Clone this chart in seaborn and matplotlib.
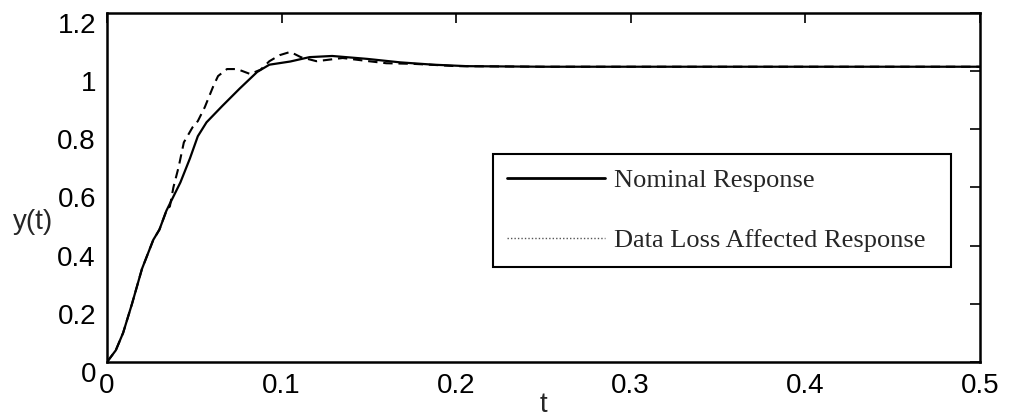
import numpy as np
import pandas as pd
import matplotlib
matplotlib.use("Agg")
import matplotlib.pyplot as plt
import matplotlib.transforms as mtransforms
from matplotlib.lines import Line2D
import seaborn as sns

# Nominal step response
t_nominal = [0.0, 0.005, 0.0092, 0.0143, 0.020, 0.0265, 0.030, 0.034, 0.042,
             0.0475, 0.052, 0.057, 0.066, 0.076, 0.086, 0.093, 0.105, 0.116,
             0.129, 0.149, 0.168, 0.187, 0.206, 0.25, 0.30, 0.35, 0.40, 0.45, 0.50]
y_nominal = [0.0, 0.04, 0.10, 0.20, 0.32, 0.42, 0.455, 0.52, 0.617,
             0.70, 0.776, 0.824, 0.88, 0.94, 0.997, 1.022, 1.033, 1.048,
             1.052, 1.042, 1.03, 1.022, 1.017, 1.015, 1.015, 1.015, 1.015, 1.015, 1.015]

# Data loss affected response
t_loss = [0.0, 0.005, 0.0092, 0.0143, 0.020, 0.0265, 0.030, 0.034, 0.036, 0.038,
          0.041, 0.044, 0.049, 0.052, 0.056, 0.061, 0.0636, 0.0687, 0.0745,
          0.082, 0.088, 0.093, 0.099, 0.105, 0.111, 0.120, 0.135, 0.150,
          0.160, 0.175, 0.185, 0.200, 0.25, 0.30, 0.35, 0.40, 0.45, 0.50]
y_loss = [0.0, 0.04, 0.10, 0.20, 0.32, 0.42, 0.455, 0.52, 0.535, 0.60,
          0.67, 0.755, 0.807, 0.828, 0.876, 0.95, 0.983, 1.007, 1.007,
          0.99, 1.005, 1.034, 1.055, 1.066, 1.048, 1.034, 1.045, 1.034,
          1.027, 1.025, 1.022, 1.017, 1.015, 1.015, 1.015, 1.015, 1.015, 1.015]

x_ticks = [0, 0.1, 0.2, 0.3, 0.4, 0.5]
x_tick_labels = ["0", "0.1", "0.2", "0.3", "0.4", "0.5"]
y_ticks = [0, 0.2, 0.4, 0.6, 0.8, 1.0, 1.2]
y_tick_labels = ["0", "0.2", "0.4", "0.6", "0.8", "1", "1.2"]
legend_labels = ["Nominal Response", "Data Loss Affected Response"]

sns.set_style("white")
plt.rcParams["font.family"] = ["Liberation Sans", "DejaVu Sans"]

fig = plt.figure(figsize=(10.1, 4.17), dpi=100)
ax = fig.add_axes([0.106, 0.132, 0.864, 0.837])

df_nom = pd.DataFrame({"t": t_nominal, "y": y_nominal})
df_loss = pd.DataFrame({"t": t_loss, "y": y_loss})

sns.lineplot(data=df_loss, x="t", y="y", ax=ax, color="black", lw=1.5,
             linestyle=(0, (4.5, 2.8)), estimator=None, sort=False)
sns.lineplot(data=df_nom, x="t", y="y", ax=ax, color="black", lw=1.6,
             estimator=None, sort=False)

ax.set_xlim(0, 0.5)
ax.set_ylim(0, 1.2)
ax.set_xticks(x_ticks)
ax.set_xticklabels(x_tick_labels)
ax.set_yticks(y_ticks)
ax.set_yticklabels(y_tick_labels)
ax.tick_params(direction="in", top=True, right=True, length=7, width=1.2,
               labelsize=20, pad=8, colors="black")

# MATLAB-ish: y tick labels sit a little below the tick
shift = mtransforms.ScaledTranslation(0, -0.1, fig.dpi_scale_trans)
for lab in ax.get_yticklabels():
    lab.set_transform(lab.get_transform() + shift)

for sp in ax.spines.values():
    sp.set_visible(True)
    sp.set_color("black")
    sp.set_linewidth(1.8)

ax.set_xlabel("t", fontsize=20)
ax.xaxis.set_label_coords(0.5, -0.123)
ax.xaxis.label.set_va("center")
ax.set_ylabel("y(t)", fontsize=20, rotation=0)
ax.yaxis.set_label_coords(-0.085, 0.40)
ax.yaxis.label.set_ha("center")
ax.yaxis.label.set_va("center")

handles = [Line2D([], [], color="black", lw=2),
           Line2D([], [], color="#555555", lw=1, linestyle=(0, (1, 1.5)))]
leg = ax.legend(handles, legend_labels, loc="upper left",
                bbox_to_anchor=(0.442, 0.255, 0.525, 0.341), mode="expand",
                prop={"family": "Liberation Serif", "size": 19},
                frameon=True, fancybox=False, framealpha=1, edgecolor="black",
                borderpad=0.55, labelspacing=1.4, handlelength=3.7,
                handletextpad=0.35, borderaxespad=0)
leg.get_frame().set_linewidth(1.5)

fig.savefig("out.png", dpi=100, facecolor="white")
